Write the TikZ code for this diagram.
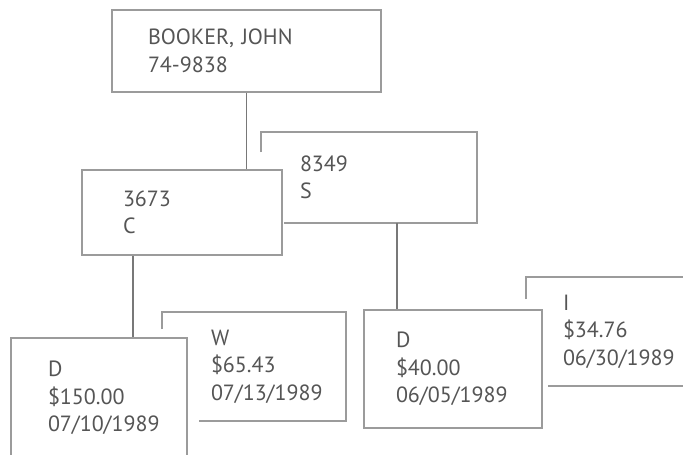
\documentclass[tikz,border=0pt]{standalone}
\usepackage{fontspec}
\setmainfont{PT Sans}
\usepackage{tikz}
\usetikzlibrary{positioning}
\definecolor{recLine}{RGB}{155,155,155}
\definecolor{recLink}{RGB}{120,120,120}
\definecolor{recText}{RGB}{85,85,85}

\begin{document}
\begin{tikzpicture}[x=1pt, y=-1pt,
  card/.style={draw=recLine, line width=1.8pt, fill=white, rectangle, align=left,
    inner xsep=36pt, inner ysep=0pt, text=recText, font=\fontsize{22}{27.5}\selectfont},
  back/.style={card, draw=none},
  edge/.style={draw=recLine, line width=1.8pt},
  link/.style={draw=recLink, line width=1.2pt}]
\clip (0,0) rectangle (683,455);
\useasboundingbox (0,0) rectangle (683,455);

\node[card, minimum height=82pt, text width=197pt] (top) at (246.5,51) {BOOKER, JOHN\\74-9838};

\node[back, minimum height=89pt, inner xsep=38pt, text width=138pt] (s) at (369,177.5) {8349\\S};
\node[card, minimum height=85pt, inner xsep=41pt, text width=118pt] (c) at (182,212.5) {3673\\C};
\draw[edge] ([yshift=-20pt]s.north west) -- (s.north west) -- (s.north east) -- (s.south east)
  -- ([xshift=1pt]c.east |- s.south);

\node[back, minimum height=107pt, inner xsep=48pt, text width=86pt] (w) at (254,366.5) {W\\\$65.43\\07/13/1989};
\node[card, minimum height=120pt, inner xsep=37pt, text width=102pt] (d1) at (99,398) {D\\\$150.00\\07/10/1989};
\draw[edge] ([yshift=-17pt]w.north west) -- (w.north west) -- (w.north east) -- (w.south east)
  -- ([xshift=11pt]d1.east |- w.south);

\node[back, minimum height=107pt, text width=121pt] (i) at (623.5,331.5) {I\\\$34.76\\06/30/1989};
\node[card, minimum height=118pt, inner xsep=32pt, text width=114pt] (d2) at (453,369) {D\\\$40.00\\06/05/1989};
\draw[edge] ([yshift=-22pt]i.north west) -- (i.north west) -- (i.north east) -- (i.south east)
  -- ([xshift=5pt]d2.east |- i.south);

\draw[link] (top.south) -- (top.south |- c.north);
\draw[link] ([xshift=-49pt]c.south) -- ([xshift=-49pt]c.south |- d1.north);
\draw[link] ([xshift=28pt]s.south) -- ([xshift=28pt]s.south |- d2.north);
\end{tikzpicture}
\end{document}
